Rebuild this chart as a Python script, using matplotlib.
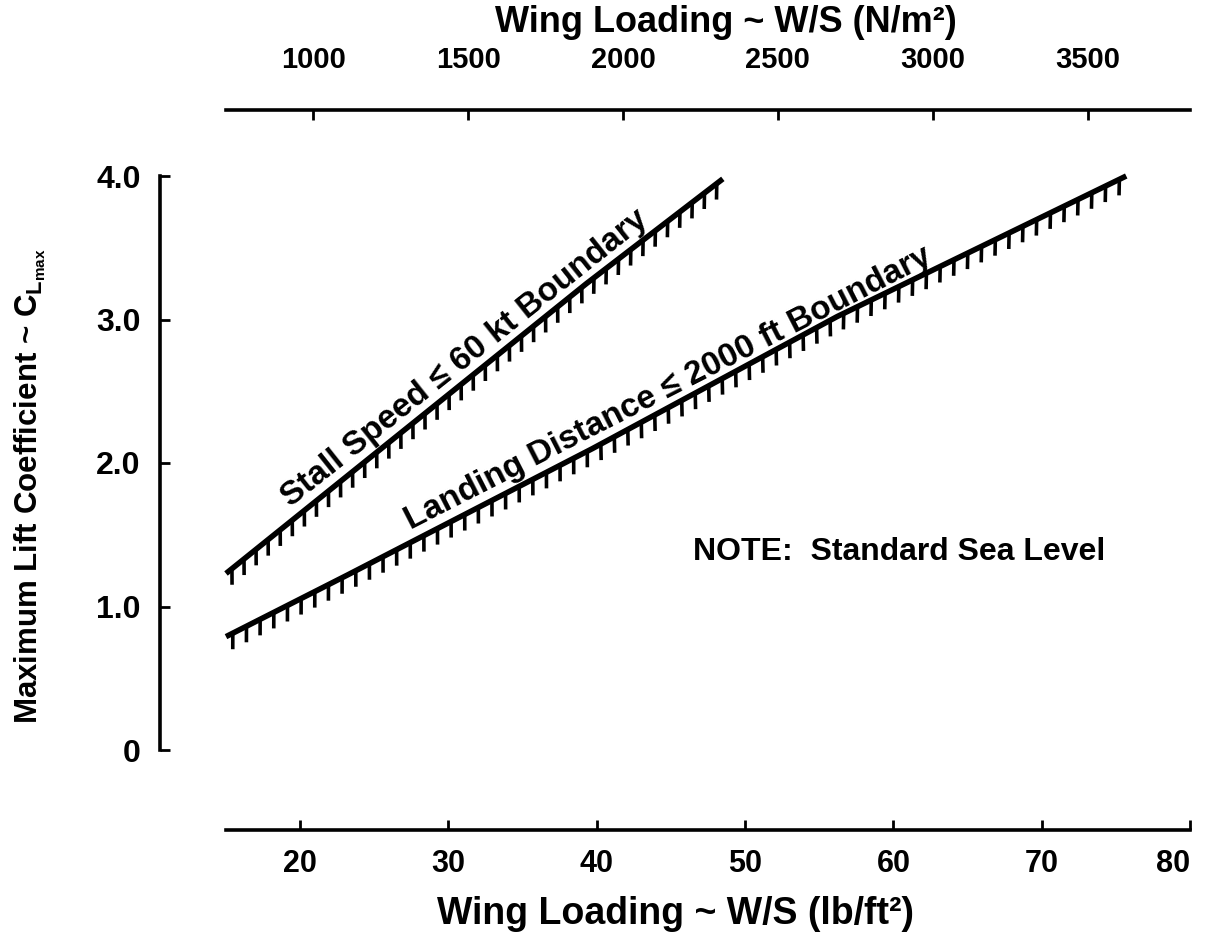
import numpy as np
import matplotlib
matplotlib.use('Agg')
import matplotlib.pyplot as plt
import matplotlib.patheffects as pe

plt.rcParams['font.family'] = ['Liberation Sans', 'DejaVu Sans']
plt.rcParams['font.weight'] = 'bold'
plt.rcParams['axes.labelweight'] = 'bold'
plt.rcParams['mathtext.fontset'] = 'custom'
plt.rcParams['mathtext.rm'] = 'Liberation Sans:bold'
plt.rcParams['mathtext.it'] = 'Liberation Sans:bold'
plt.rcParams['mathtext.bf'] = 'Liberation Sans:bold'

# data (W/S in lb/ft^2, CLmax)
stall_ws = [15.0, 39.3, 48.5]
stall_cl = [1.23, 3.25, 3.98]
landing_ws = [15.0, 23.2, 39.7, 56.2, 75.7]
landing_cl = [0.79, 1.22, 2.10, 3.02, 4.00]

x_ticks = [20, 30, 40, 50, 60, 70, 80]
y_ticks = [0, 1, 2, 3, 4]
y_ticklabels = ['0', '1.0', '2.0', '3.0', '4.0']
top_ticks = [1000, 1500, 2000, 2500, 3000, 3500]
LBFT2_TO_NM2 = 47.88

fig = plt.figure(figsize=(12.05, 9.49), dpi=100)
W, H = 1205, 949
ax = fig.add_axes([226 / W, 1 - 750 / H, 964 / W, 574 / H])
ax.set_xlim(15, 80)
ax.set_ylim(0, 4.0)

# detached spines like the original drawing
for s in ['right', 'top']:
    ax.spines[s].set_visible(False)
ax.spines['left'].set_position(('axes', -66 / 964))
ax.spines['bottom'].set_position(('axes', -80 / 574))
for s in ['left', 'bottom']:
    ax.spines[s].set_linewidth(2.6)

ax.set_xticks(x_ticks)
ax.set_xticklabels([str(v) for v in x_ticks], fontsize=22)
ax.get_xticklabels()[-1].set_horizontalalignment('right')
ax.set_yticks(y_ticks)
ax.set_yticklabels(y_ticklabels, fontsize=23)
ax.tick_params(axis='x', direction='in', length=7, width=2, pad=14)
ax.tick_params(axis='y', direction='in', length=7, width=2, pad=14)

ax.set_xlabel('Wing Loading ~ W/S (lb/ft²)', fontsize=27)
ax.xaxis.set_label_coords(0.466, -0.255)
ax.set_ylabel(r'Maximum Lift Coefficient ~ $C_{L_{max}}$', fontsize=22.5)
ax.yaxis.set_label_coords(-0.185, 0.46)

top = ax.secondary_xaxis(1 + 66 / 574, functions=(lambda x: x * LBFT2_TO_NM2,
                                                  lambda x: x / LBFT2_TO_NM2))
top.set_xticks(top_ticks)
top.set_xticklabels([str(v) for v in top_ticks], fontsize=21)
top.spines['top'].set_linewidth(2.6)
top.tick_params(axis='x', direction='in', length=7, width=2, pad=26)
top.set_xlabel('Wing Loading ~ W/S (N/m²)', fontsize=26)
top.xaxis.set_label_coords(0.519, 1.25, transform=ax.transAxes)


def screen_angle(xs, ys):
    p = ax.transData.transform(np.column_stack([xs, ys]))
    return np.degrees(np.arctan2(p[-1, 1] - p[0, 1], p[-1, 0] - p[0, 0]))


for xs, ys, label, start in [
        (stall_ws, stall_cl, 'Stall Speed ≤ 60 kt Boundary', 19.8),
        (landing_ws, landing_cl, 'Landing Distance ≤ 2000 ft Boundary', 27.8)]:
    ang = screen_angle(xs, ys)
    ax.plot(xs, ys, color='black', lw=4, solid_capstyle='butt', clip_on=False,
            path_effects=[pe.withTickedStroke(angle=-90 - ang, spacing=11,
                                              length=1.05, linewidth=2.6)])
    a = np.radians(ang)
    ax.annotate(label, xy=(start, np.interp(start, xs, ys)),
                xytext=(-3 * np.sin(a), 3 * np.cos(a)), textcoords='offset points',
                rotation=ang, rotation_mode='anchor', ha='left', va='bottom',
                fontsize=24)

ax.text(46.5, 1.38, 'NOTE:  Standard Sea Level', fontsize=23, ha='left', va='center')

fig.savefig('out.png', dpi=100)
